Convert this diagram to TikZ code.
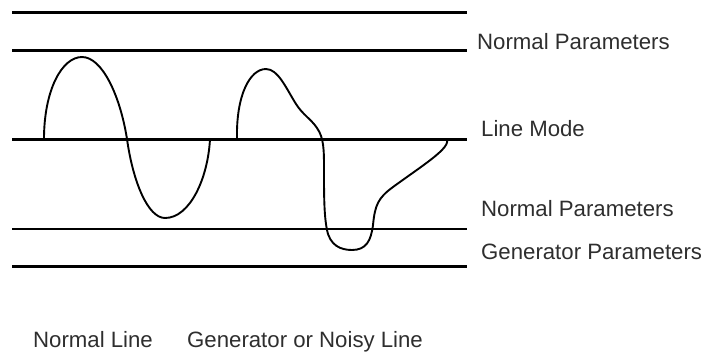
\documentclass[tikz,border=0pt]{standalone}
\usepackage{fontspec}
\setmainfont{Liberation Sans}
\begin{document}
\begin{tikzpicture}[x=1pt,y=-1pt,
  thickline/.style={line width=3pt},
  thinline/.style={line width=1.6pt},
  wave/.style={line width=1.9pt, line join=round, line cap=round},
  lbl/.style={anchor=base west, inner sep=0pt, font=\fontsize{22.2}{25}\selectfont, text=black!82}]
\useasboundingbox (0,0) rectangle (705,354);
\draw[thickline] (12,12) -- (467,12);
\draw[thickline] (12,50) -- (467,50);
\draw[thickline] (12,139) -- (467,139);
\draw[thinline] (12,229) -- (467,229);
\draw[thickline] (12,266) -- (467,266);
% normal wave
\draw[wave] (44,139) .. controls (44,90) and (62,57) .. (82,57)
  .. controls (102,57) and (120,95) .. (127,139)
  .. controls (133,182) and (148,218) .. (165,218)
  .. controls (190,218) and (208,178) .. (210,139);
% noisy wave
\draw[wave] (237,139) .. controls (236,95) and (250,69) .. (266,69)
  .. controls (278,69) and (286,88) .. (296,104)
  .. controls (303,115) and (311,119) .. (317,128)
  .. controls (324,138) and (324,150) .. (324,170)
  .. controls (324,195) and (324,215) .. (327,230)
  .. controls (330,245) and (340,250) .. (352,250)
  .. controls (366,250) and (371,241) .. (373,225)
  .. controls (375,205) and (378,198) .. (393,187)
  .. controls (415,171) and (432,160) .. (442,150)
  .. controls (446,146) and (448,142) .. (447,140);
\node[lbl] (np1) at (477,49) {Normal Parameters};
\node[lbl] (lm) at (481,136) {Line Mode};
\node[lbl] (np2) at (481,216) {Normal Parameters};
\node[lbl] (gp) at (481,259) {Generator Parameters};
\node[lbl] (nl) at (33,347) {Normal Line};
\node[lbl] (gl) at (187,347) {Generator or Noisy Line};
\end{tikzpicture}
\end{document}
